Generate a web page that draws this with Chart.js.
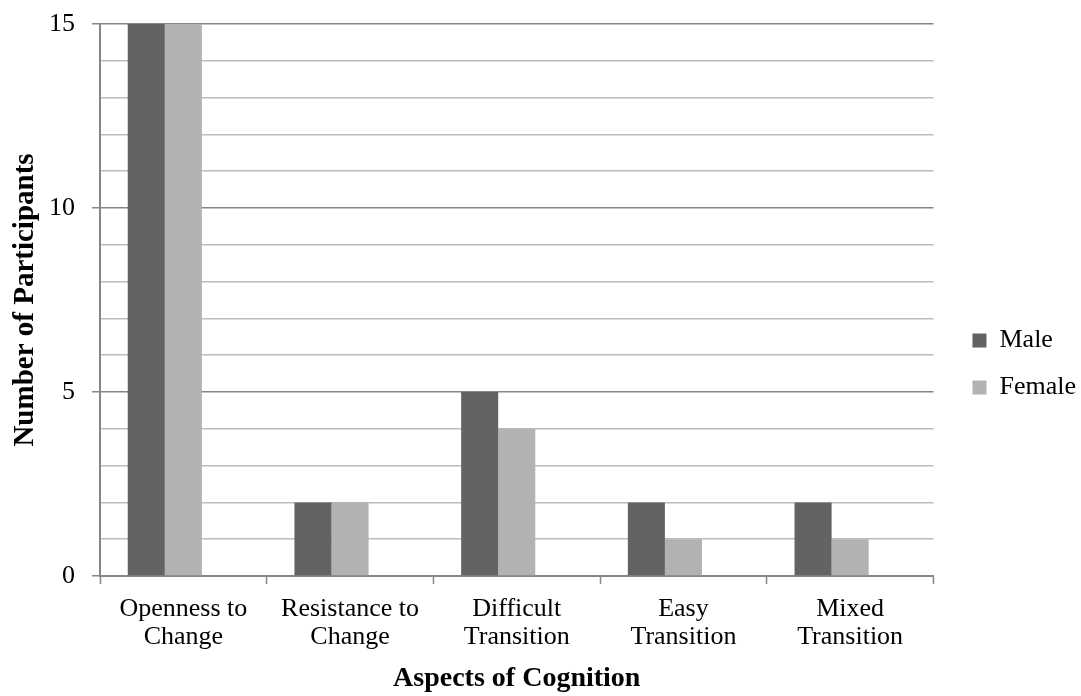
<!DOCTYPE html>
<html>
<head>
<meta charset="utf-8">
<script src="https://cdn.jsdelivr.net/npm/chart.js@4/dist/chart.umd.min.js"></script>
<style>
  html, body { margin: 0; padding: 0; background: #ffffff; }
  #wrap { width: 1081px; height: 696px; }
</style>
</head>
<body>
<div id="wrap"><canvas id="chart" width="1081" height="696"></canvas></div>
<script>
// Participant counts by aspect of cognition, split by gender
const categories = [
  ['Openness to', 'Change'],
  ['Resistance to', 'Change'],
  ['Difficult', 'Transition'],
  ['Easy', 'Transition'],
  ['Mixed', 'Transition']
];
const maleValues = [15, 2, 5, 2, 2];
const femaleValues = [15, 2, 4, 1, 1];
const seriesNames = ['Male', 'Female'];
const yTickLabels = [0, 5, 10, 15];

const FONT = "'Liberation Serif', 'DejaVu Serif', serif";
const AXIS = '#868686';
const MINOR = '#bcbcbc';

// nudge the legend block toward the right edge and slightly down
const legendNudge = {
  id: 'legendNudge',
  afterLayout(chart) {
    const lg = chart.legend;
    if (!lg) return;
    const dx = 18, dy = 4;
    lg.left += dx; lg.right += dx;
    lg.top += dy; lg.bottom += dy;
  }
};

new Chart(document.getElementById('chart'), {
  type: 'bar',
  data: {
    labels: categories,
    datasets: [
      { label: seriesNames[0], data: maleValues, backgroundColor: '#636363', borderWidth: 0 },
      { label: seriesNames[1], data: femaleValues, backgroundColor: '#b2b2b2', borderWidth: 0 },
      // empty third slot keeps the pair left of each category centre
      { label: '', data: [null, null, null, null, null], backgroundColor: 'rgba(0,0,0,0)' }
    ]
  },
  plugins: [legendNudge],
  options: {
    responsive: false,
    animation: false,
    devicePixelRatio: 1,
    layout: { padding: { top: 24, right: 13, bottom: 0, left: 0 } },
    datasets: { bar: { categoryPercentage: 0.667, barPercentage: 1.0 } },
    plugins: {
      tooltip: { enabled: false },
      legend: {
        position: 'right',
        align: 'center',
        labels: {
          font: { family: FONT, size: 26 },
          color: '#000',
          boxWidth: 14,
          boxHeight: 14,
          padding: 21,
          filter: (item) => item.text !== ''
        }
      }
    },
    scales: {
      x: {
        offset: true,
        afterFit: (scale) => { scale.height = 120; },
        grid: {
          offset: true,
          drawOnChartArea: false,
          drawTicks: true,
          tickLength: 8,
          tickColor: AXIS,
          tickWidth: 1.5
        },
        border: { color: AXIS, width: 2 },
        ticks: {
          font: { family: FONT, size: 26, lineHeight: 1.08 },
          color: '#000',
          padding: 11,
          maxRotation: 0,
          autoSkip: false
        },
        title: {
          display: true,
          text: 'Aspects of Cognition',
          font: { family: FONT, size: 28, weight: 'bold' },
          color: '#000',
          padding: { top: 2, bottom: 0 }
        }
      },
      y: {
        min: 0,
        max: 15,
        afterFit: (scale) => {
          scale.width = 100;
          scale.paddingTop = 0;
          scale.paddingBottom = 0;
        },
        ticks: {
          stepSize: 1,
          font: { family: FONT, size: 26 },
          color: '#000',
          padding: 17,
          callback: (v) => (yTickLabels.includes(v) ? String(v) : '')
        },
        grid: {
          color: (ctx) => (ctx.tick && ctx.tick.value % 5 === 0 ? AXIS : MINOR),
          lineWidth: 1.5,
          tickLength: 8,
          tickColor: (ctx) => (ctx.tick && ctx.tick.value % 5 === 0 ? AXIS : 'rgba(0,0,0,0)'),
          tickWidth: 1.5
        },
        border: { color: AXIS, width: 2 },
        title: {
          display: true,
          text: 'Number of Participants',
          font: { family: FONT, size: 29, weight: 'bold' },
          color: '#000',
          padding: { top: 8, bottom: 0 }
        }
      }
    }
  }
});
</script>
</body>
</html>
